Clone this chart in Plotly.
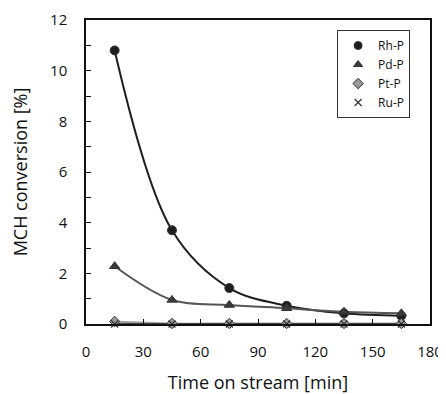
import plotly.graph_objects as go

time_min = [15, 45, 75, 105, 135, 165]
rh_p = [10.8, 3.7, 1.42, 0.72, 0.42, 0.32]
pd_p = [2.28, 0.95, 0.75, 0.62, 0.48, 0.42]
pt_p = [0.1, 0.02, 0.02, 0.02, 0.02, 0.02]
ru_p = [0.0, 0.0, 0.0, 0.0, 0.0, 0.0]

series = [
    ("Rh-P", rh_p, "circle", "#1e1e1e", "#1e1e1e", 9, 8),
    ("Pd-P", pd_p, "triangle-up", "#3a3a3a", "#555555", 9, 8),
    ("Pt-P", pt_p, "diamond", "#9a9a9a", "#a0a0a0", 8, 8),
    ("Ru-P", ru_p, "x-thin", "#222222", "#444444", 7, 7),
]

fig = go.Figure()
for name, vals, sym, mcol, lcol, size, lsize in series:
    fig.add_trace(go.Scatter(
        x=time_min, y=vals, mode="lines",
        line=dict(color=lcol, width=2, shape="spline", smoothing=1.0),
        showlegend=False, cliponaxis=False, hoverinfo="skip"))
for name, vals, sym, mcol, lcol, size, lsize in series:
    lw = 1 if sym != "x-thin" else 1.2
    fig.add_trace(go.Scatter(
        x=time_min, y=vals, mode="markers", name=name, showlegend=False,
        marker=dict(symbol=sym, size=size, color=mcol,
                    line=dict(color="#333333", width=lw)),
        cliponaxis=False))
for name, vals, sym, mcol, lcol, size, lsize in series:
    lw = 1 if sym != "x-thin" else 1.2
    fig.add_trace(go.Scatter(
        x=[None], y=[None], mode="markers", name=name,
        marker=dict(symbol=sym, size=lsize, color=mcol,
                    line=dict(color="#333333", width=lw))))

# page body has an 8px default margin; size the figure to fit the window
fig.update_layout(
    width=438, height=386,
    margin=dict(l=78, r=16, t=12, b=70),
    paper_bgcolor="white", plot_bgcolor="white",
    font=dict(family="Open Sans, Liberation Sans, sans-serif", size=15, color="#111111"),
    legend=dict(x=0.73, y=0.967, xanchor="left", yanchor="top",
                bgcolor="white", bordercolor="#333333", borderwidth=1,
                font=dict(size=12), itemwidth=30, tracegroupgap=0),
    xaxis=dict(range=[0, 180], tickvals=[0, 30, 60, 90, 120, 150, 180],
               ticks="inside", ticklen=5, tickcolor="#111111",
               ticklabelstandoff=13,
               showline=True, linecolor="#111111", linewidth=1.5, mirror=True,
               showgrid=False, zeroline=False, automargin=False,
               title=dict(text="Time on stream [min]", standoff=20)),
    yaxis=dict(range=[0, 12], tickvals=[0, 2, 4, 6, 8, 10, 12],
               ticks="inside", ticklen=5, tickcolor="#111111",
               ticklabelstandoff=14,
               minor=dict(ticks="inside", ticklen=5, dtick=1, tickcolor="#111111"),
               showline=True, linecolor="#111111", linewidth=1.5, mirror=True,
               showgrid=False, zeroline=False, automargin=False,
               title=dict(text="MCH conversion [%]", standoff=28)),
)

fig.write_html("out.html")
